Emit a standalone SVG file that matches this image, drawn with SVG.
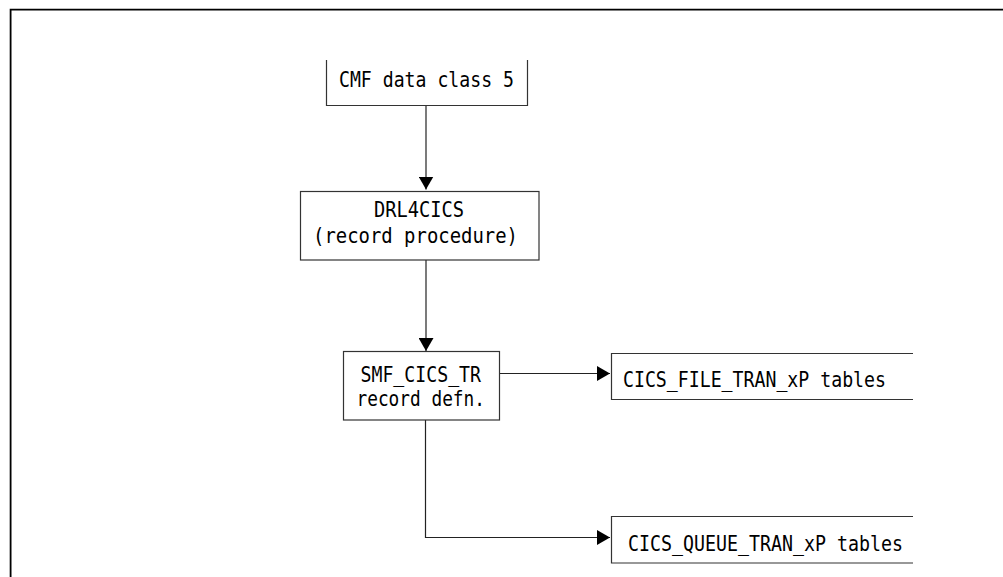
<svg xmlns="http://www.w3.org/2000/svg" width="1003" height="577" viewBox="0 0 1003 577">
<style>
.bx{fill:none;stroke:#333;stroke-width:1.2}
.cn{fill:none;stroke:#222;stroke-width:1.2}
.t{font-family:"DejaVu Sans Mono","Liberation Mono",monospace;font-size:21px;fill:#000}
</style>
<defs>
<marker id="ah" markerUnits="userSpaceOnUse" markerWidth="14" markerHeight="15" refX="13" refY="7.5" orient="auto">
<path d="M0,0 L13,7.5 L0,15 z" fill="#000"/>
</marker>
</defs>
<rect width="1003" height="577" fill="#fff"/>
<path d="M10.6,577 V9.6 H1003" fill="none" stroke="#000" stroke-width="1.8"/>
<g id="connectors">
<path class="cn" d="M426,105.5 V189.5" marker-end="url(#ah)"/>
<path class="cn" d="M426,260 V351" marker-end="url(#ah)"/>
<path class="cn" d="M499.5,373.5 H610" marker-end="url(#ah)"/>
<path class="cn" d="M425.5,420 V537.5 H610" marker-end="url(#ah)"/>
</g>
<g id="cmf">
<path class="bx" d="M326.5,60 V105.5 H527.5 V60"/>
<text class="t" x="339" y="87" textLength="175" lengthAdjust="spacingAndGlyphs">CMF data class 5</text>
</g>
<g id="drl4cics">
<rect class="bx" x="300.5" y="191.5" width="238.5" height="68.5"/>
<text class="t" x="374" y="217" textLength="90" lengthAdjust="spacingAndGlyphs">DRL4CICS</text>
<text class="t" x="313" y="242.5" textLength="205" lengthAdjust="spacingAndGlyphs">(record procedure)</text>
</g>
<g id="smf">
<rect class="bx" x="343.5" y="351.5" width="156" height="68.5"/>
<text class="t" x="360.5" y="382" textLength="120.5" lengthAdjust="spacingAndGlyphs">SMF_CICS_TR</text>
<text class="t" x="356.5" y="405.5" textLength="128.5" lengthAdjust="spacingAndGlyphs">record defn.</text>
</g>
<g id="filetran">
<path class="bx" d="M913,353.5 H611.5 V399.5 H913"/>
<text class="t" x="623" y="386.5" textLength="263" lengthAdjust="spacingAndGlyphs">CICS_FILE_TRAN_xP tables</text>
</g>
<g id="queuetran">
<path class="bx" d="M913,516.5 H611.5 V563 H913"/>
<text class="t" x="628" y="550.5" textLength="275" lengthAdjust="spacingAndGlyphs">CICS_QUEUE_TRAN_xP tables</text>
</g>
</svg>
